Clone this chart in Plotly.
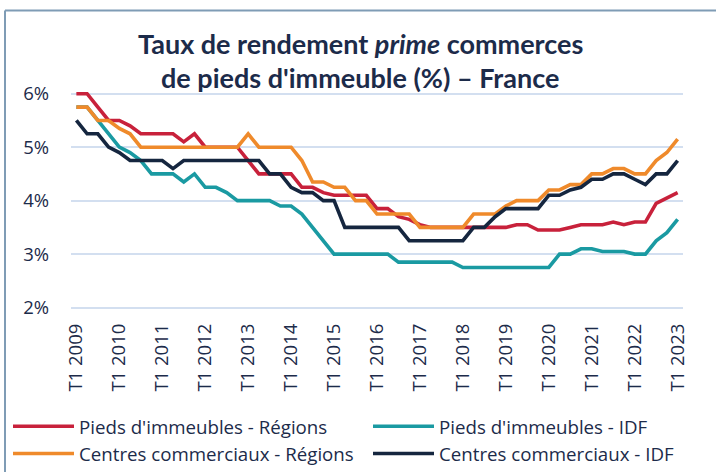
import plotly.graph_objects as go

years = list(range(2009, 2024))
quarters = [f"T{q} {y}" for y in range(2009, 2024) for q in range(1, 5)][:57]
tick_labels = [f"T1 {y}" for y in years]

pieds_regions = [6.0, 6.0, 5.75, 5.5, 5.5, 5.4, 5.25, 5.25, 5.25, 5.25, 5.1, 5.25, 5.0, 5.0,
                 5.0, 5.0, 4.75, 4.5, 4.5, 4.5, 4.5, 4.25, 4.25, 4.15, 4.1, 4.1, 4.1, 4.1,
                 3.85, 3.85, 3.7, 3.65, 3.55, 3.5, 3.5, 3.5, 3.5, 3.5, 3.5, 3.5, 3.5, 3.55,
                 3.55, 3.45, 3.45, 3.45, 3.5, 3.55, 3.55, 3.55, 3.6, 3.55, 3.6, 3.6, 3.95,
                 4.05, 4.15]
pieds_idf = [5.75, 5.75, 5.5, 5.25, 5.0, 4.9, 4.75, 4.5, 4.5, 4.5, 4.35, 4.5, 4.25, 4.25,
             4.15, 4.0, 4.0, 4.0, 4.0, 3.9, 3.9, 3.75, 3.5, 3.25, 3.0, 3.0, 3.0, 3.0,
             3.0, 3.0, 2.85, 2.85, 2.85, 2.85, 2.85, 2.85, 2.75, 2.75, 2.75, 2.75, 2.75, 2.75,
             2.75, 2.75, 2.75, 3.0, 3.0, 3.1, 3.1, 3.05, 3.05, 3.05, 3.0, 3.0, 3.25,
             3.4, 3.65]
centres_regions = [5.75, 5.75, 5.5, 5.5, 5.35, 5.25, 5.0, 5.0, 5.0, 5.0, 5.0, 5.0, 5.0, 5.0,
                   5.0, 5.0, 5.25, 5.0, 5.0, 5.0, 5.0, 4.75, 4.35, 4.35, 4.25, 4.25, 4.0, 4.0,
                   3.75, 3.75, 3.75, 3.75, 3.5, 3.5, 3.5, 3.5, 3.5, 3.75, 3.75, 3.75, 3.9, 4.0,
                   4.0, 4.0, 4.2, 4.2, 4.3, 4.3, 4.5, 4.5, 4.6, 4.6, 4.5, 4.5, 4.75,
                   4.9, 5.15]
centres_idf = [5.5, 5.25, 5.25, 5.0, 4.9, 4.75, 4.75, 4.75, 4.75, 4.6, 4.75, 4.75, 4.75, 4.75,
               4.75, 4.75, 4.75, 4.75, 4.5, 4.5, 4.25, 4.15, 4.15, 4.0, 4.0, 3.5, 3.5, 3.5,
               3.5, 3.5, 3.5, 3.25, 3.25, 3.25, 3.25, 3.25, 3.25, 3.5, 3.5, 3.7, 3.85, 3.85,
               3.85, 3.85, 4.1, 4.1, 4.2, 4.25, 4.4, 4.4, 4.5, 4.5, 4.4, 4.3, 4.5,
               4.5, 4.75]

series = [
    ("Pieds d'immeubles - Régions", pieds_regions, "#c8213b", "legend"),
    ("Pieds d'immeubles - IDF", pieds_idf, "#1a9aa2", "legend2"),
    ("Centres commerciaux - Régions", centres_regions, "#ef8a2b", "legend"),
    ("Centres commerciaux - IDF", centres_idf, "#15263f", "legend2"),
]

FONT = "Open Sans"
TITLE_FONT = "Lato"
TXT = "#1c2b4a"

fig = go.Figure()
x_idx = list(range(len(quarters)))
for name, vals, col, leg in series:
    fig.add_trace(go.Scatter(x=x_idx, y=vals, mode="lines", name=name, legend=leg,
                             line=dict(color=col, width=3.6)))

# plot area in pixels
L, R, T, B = 71, 683, 91.3, 309.7
W, H = 716, 472

def px_x(p):
    return (p - L) / (R - L)

def px_y(p):
    return (B - p) / (B - T)

title_lines = ["<b>Taux de rendement <i>prime</i> commerces</b>",
               "<b>de pieds d'immeuble (%) – France</b>"]
annotations = [
    dict(text=title_lines[0], xref="paper", yref="paper", x=px_x(360), y=px_y(44),
         xanchor="center", yanchor="middle", showarrow=False,
         font=dict(family=TITLE_FONT, size=27, color=TXT)),
    dict(text=title_lines[1], xref="paper", yref="paper", x=px_x(360), y=px_y(78),
         xanchor="center", yanchor="middle", showarrow=False,
         font=dict(family=TITLE_FONT, size=27, color=TXT)),
]

legend_common = dict(orientation="v", xanchor="left", yanchor="top", itemwidth=61,
                     font=dict(family=FONT, size=18.7, color=TXT),
                     bgcolor="rgba(0,0,0,0)", tracegroupgap=0, traceorder="normal")

fig.update_layout(
    width=W, height=H,
    margin=dict(l=L, r=W - R, t=T, b=H - B, pad=0, autoexpand=False),
    paper_bgcolor="white", plot_bgcolor="white",
    font=dict(family=FONT, color=TXT, size=19),
    xaxis=dict(range=[-0.5, len(quarters) - 0.5], tickmode="array",
               tickvals=[4 * k for k in range(len(years))], ticktext=tick_labels,
               tickangle=-90, showgrid=False, zeroline=False, showline=False,
               ticks="", ticklabelstandoff=9, automargin=False,
               tickfont=dict(family=FONT, size=18.5, color=TXT)),
    yaxis=dict(range=[2 - 2.4 / 53.25, 6 + 2.7 / 53.25], tickvals=[2, 3, 4, 5, 6],
               ticktext=["2%", "3%", "4%", "5%", "6%"], showgrid=True,
               gridcolor="#d3dff0", gridwidth=2, zeroline=False, showline=False,
               ticks="", ticklabelstandoff=21, automargin=False,
               tickfont=dict(family=FONT, size=18.5, color=TXT)),
    showlegend=True,
    legend=dict(x=px_x(8), y=px_y(407), **legend_common),
    legend2=dict(x=px_x(368), y=px_y(407), **legend_common),
    annotations=annotations,
    shapes=[
        dict(type="line", xref="paper", yref="paper", x0=px_x(5), x1=px_x(5),
             y0=px_y(11), y1=px_y(490), line=dict(color="#7f9cb5", width=2)),
        dict(type="line", xref="paper", yref="paper", x0=px_x(5), x1=px_x(730),
             y0=px_y(11), y1=px_y(11), line=dict(color="#7f9cb5", width=2)),
    ],
)

fig.write_html("out.html", config={"displayModeBar": False},
               post_script="document.body.style.margin='0px';")
